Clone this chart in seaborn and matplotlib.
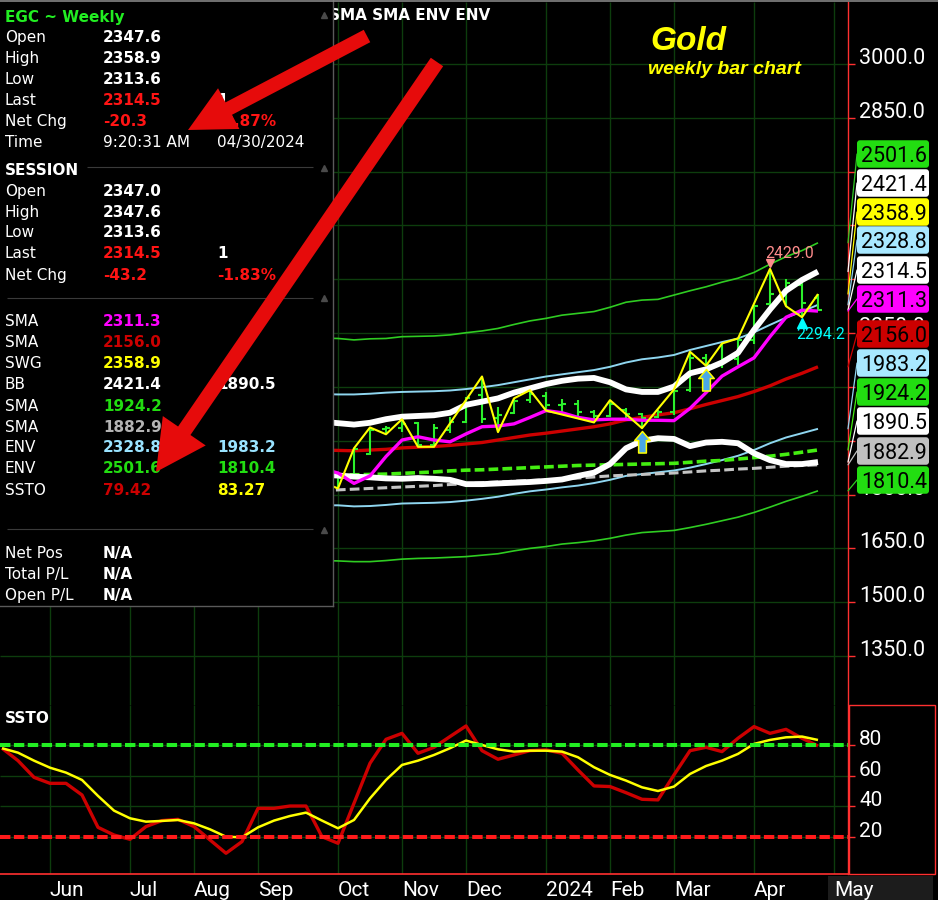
import matplotlib
matplotlib.use("Agg")
import numpy as np
import pandas as pd
import matplotlib.pyplot as plt
import matplotlib.transforms as mtransforms
from matplotlib.patches import FancyArrow, FancyBboxPatch, Rectangle, ConnectionPatch
from matplotlib.path import Path
from matplotlib.lines import Line2D
import seaborn as sns

# ================= DATA =================
ssto_idx = list(range(52))                     # weekly bars, 0 = late May 2023, 51 = week of 29 Apr 2024
month_pos = [3, 8, 12, 16, 21, 25, 29, 34, 38, 42, 47, 52]
month_labels = ["Jun", "Jul", "Aug", "Sep", "Oct", "Nov", "Dec", "2024", "Feb", "Mar", "Apr", "May"]
price_ticks = [1350, 1500, 1650, 1800, 1950, 2100, 2250, 2400, 2550, 2700, 2850, 3000]
ssto_ticks = [20, 40, 60, 80]

line_idx = list(range(20, 52))
env_up16 = [2236, 2235, 2231, 2234, 2235, 2240, 2241, 2242, 2245, 2251, 2256, 2263, 2274, 2284, 2291, 2300,
            2305, 2310, 2322, 2336, 2342, 2344, 2356, 2368, 2379, 2392, 2403, 2419, 2442, 2463, 2480, 2501.6]
env_up8 = [2080, 2079, 2079, 2081, 2084, 2086, 2087, 2088, 2090, 2094, 2099, 2105, 2113, 2121, 2129, 2135,
           2141, 2147, 2156, 2168, 2177, 2182, 2189, 2203, 2214, 2225, 2235, 2252, 2273, 2293, 2310, 2328.8]
sma_mid = [1924, 1923, 1922, 1924, 1926, 1930, 1932, 1934, 1937, 1941, 1945, 1952, 1959, 1966, 1971, 1977,
           1983, 1989, 1997, 2008, 2015, 2022, 2028, 2039, 2051, 2062, 2073, 2087, 2103, 2122, 2138, 2156.0]
env_dn8 = [1770, 1770, 1767, 1768, 1771, 1775, 1776, 1777, 1779, 1783, 1788, 1794, 1802, 1809, 1814, 1820,
           1825, 1832, 1841, 1852, 1857, 1862, 1867, 1875, 1885, 1896, 1908, 1924, 1943, 1959, 1971, 1983.2]
env_dn16 = [1616, 1615, 1613, 1613, 1616, 1620, 1622, 1623, 1625, 1627, 1631, 1635, 1643, 1650, 1655, 1662,
            1666, 1671, 1678, 1687, 1694, 1697, 1700, 1708, 1717, 1727, 1737, 1750, 1765, 1781, 1795, 1810.4]
sma_slow = [1853, 1854, 1855, 1856, 1857, 1859, 1861, 1863, 1866, 1868, 1869, 1871, 1873, 1875, 1877, 1879,
            1881, 1882, 1883, 1884, 1885, 1886, 1887, 1890, 1893, 1895, 1899, 1903, 1907, 1912, 1918, 1924.2]
sma_long = [1811, 1813, 1815, 1817, 1819, 1821, 1823, 1825, 1828, 1830, 1833, 1835, 1837, 1839, 1841, 1843,
            1846, 1849, 1852, 1854, 1856, 1858, 1860, 1863, 1866, 1868, 1871, 1873, 1876, 1879, 1881, 1882.9]
bb_up = [2003, 1999, 1995, 2000, 2010, 2017, 2019, 2021, 2028, 2050, 2059, 2068, 2084, 2096, 2108, 2117,
         2123, 2125, 2113, 2093, 2086, 2086, 2101, 2138, 2149, 2168, 2195, 2259, 2316, 2368, 2398, 2421.4]
bb_dn = [1855, 1853, 1850, 1848, 1845, 1844, 1846, 1844, 1841, 1829, 1829, 1831, 1833, 1835, 1838, 1842,
         1852, 1861, 1885, 1929, 1950, 1957, 1955, 1935, 1945, 1947, 1943, 1915, 1896, 1885, 1885, 1890.5]
sma_fast = [1872, 1860, 1831, 1852, 1906, 1952, 1961, 1952, 1947, 1969, 1989, 1991, 1997, 2015, 2034, 2028,
            2015, 2008, 2010, 2010, 2007, 2007, 2006, 2040, 2084, 2130, 2156, 2181, 2240, 2294, 2314, 2311.3]

ohlc_idx = list(range(21, 52))
bar_open = [1848, 1846, 1912, 1982, 1986, 2000, 1938, 1980, 2003, 2078, 2012, 2027, 2064, 2076, 2050, 2052,
            2030, 2020, 2036, 2024, 2015, 2030, 2090, 2180, 2160, 2178, 2232, 2330, 2362, 2385, 2347.6]
bar_high = [1850, 1929, 1987, 1990, 2010, 2003, 1997, 2015, 2073, 2129, 2045, 2068, 2091, 2087, 2065, 2063,
            2036, 2063, 2040, 2028, 2036, 2093, 2198, 2192, 2221, 2235, 2328, 2429.0, 2400, 2389, 2358.9]
bar_low = [1817, 1845, 1910, 1968, 1974, 1933, 1933, 1972, 2000, 2000, 1974, 2024, 2054, 2034, 2026, 2017,
           2001, 2017, 2010, 1985, 2012, 2022, 2087, 2157, 2152, 2162, 2220, 2324, 2325, 2294.2, 2313.6]
bar_close = [1845, 1926, 1980, 1985, 1996, 1937, 1985, 2002, 2068, 2010, 2022, 2060, 2080, 2050, 2052, 2030,
             2018, 2053, 2025, 2013, 2030, 2088, 2180, 2160, 2177, 2230, 2325, 2360, 2390, 2334.8, 2314.5]

swing_idx = [20, 21, 22, 23, 24, 25, 26, 27, 30, 31, 32, 33, 34, 37, 38, 40, 42, 43, 44, 45, 46, 48, 49, 50, 51]
swing_val = [1835, 1817, 1929, 1987, 1968, 2010, 1933, 1933, 2129, 1974, 2068, 2091, 2034, 2001, 2063, 1985,
             2093, 2198, 2159, 2221, 2235, 2429.0, 2325, 2294.2, 2358.9]
signal_idx = [40, 44]

ssto_k = [77.9, 69.8, 58.9, 55.0, 55.0, 47.4, 26.3, 21.3, 18.5, 26.8,
          30.7, 31.5, 26.8, 18.1, 9.4, 17.0, 38.7, 38.7, 40.2, 40.2,
          20.2, 15.9, 42.0, 68.1, 83.7, 87.6, 74.6, 78.5, 85.5, 92.4,
          76.3, 70.7, 73.5, 76.3, 76.8, 74.6, 63.7, 53.3, 52.9, 48.9,
          44.6, 44.2, 60.5, 76.3, 78.5, 75.7, 84.4, 92.0, 87.6, 90.2,
          84.4, 79.42]
ssto_d = [77.9, 75.0, 69.8, 65.2, 62.0, 57.2, 46.8, 37.2, 32.2, 30.0,
          30.5, 31.1, 28.9, 25.0, 20.2, 19.8, 26.3, 30.7, 33.7, 35.9,
          30.7, 25.7, 31.1, 45.2, 57.2, 67.0, 69.8, 73.5, 77.9, 82.9,
          80.0, 77.2, 75.7, 76.3, 76.3, 75.7, 72.0, 65.5, 60.5, 56.8,
          52.4, 50.0, 52.9, 61.1, 66.3, 69.8, 74.2, 80.7, 83.3, 85.0,
          85.5, 83.27]
ssto_upper = 80
ssto_lower = 20

# ================= STYLE =================
C_ENV16 = "#2fcc22"
C_ENV8 = "#8fd6f0"
C_MID = "#cc0000"
C_FAST = "#ff00ff"
C_SLOW = "#44ee11"
C_LONG = "#c4c4c4"
C_BB = "#ffffff"
C_SWG = "#ffff00"
C_BAR = "#2bf02b"
C_GRID = "#0d3d0d"
C_AXIS = "#ff3030"
AXFONT = ["Roboto", "DejaVu Sans"]

sns.set_theme(style="dark")
plt.rcParams.update({
    "font.family": ["DejaVu Sans"],
    "lines.scale_dashes": False,
    "axes.facecolor": "black",
    "figure.facecolor": "black",
    "savefig.facecolor": "black",
    "lines.solid_capstyle": "butt",
})

W, H = 938, 900
fig = plt.figure(figsize=(W / 100, H / 100), dpi=100)
px = mtransforms.Affine2D().scale(1.0 / W, -1.0 / H).translate(0, 1) + fig.transFigure

def fx(x):
    return x / W

def fy(y):
    return 1 - y / H

AX_R = 848
ax = fig.add_axes([0, fy(705), fx(AX_R), (705 - 2) / H])
ax2 = fig.add_axes([0, fy(874), fx(AX_R), (874 - 705) / H])

x0 = -0.125
x1 = (AX_R - 2) / 16.0
price_per_px = 1650.0 / 592.0
for a in (ax, ax2):
    a.set_facecolor("black")
    a.set_xlim(x0, x1)
    a.set_xticks(month_pos)
    a.grid(True, color=C_GRID, lw=1.0)
    a.set_axisbelow(True)
    for s in ("left", "top"):
        a.spines[s].set_visible(False)
    a.spines["right"].set_color(C_AXIS)
    a.spines["right"].set_linewidth(1.0)
    a.yaxis.tick_right()
ax.spines["bottom"].set_visible(False)
ax2.spines["bottom"].set_color(C_AXIS)
ax2.spines["bottom"].set_linewidth(1.2)

ax.set_ylim(3000 - (705 - 64) * price_per_px, 3000 + (64 - 2) * price_per_px)
ssto_per_px = 60.0 / 92.0
ax2.set_ylim(80 - (874 - 745) * ssto_per_px, 80 + (745 - 705) * ssto_per_px)

# ---------- price panel ----------
def line(y, x, color, lw, z, ls="-"):
    sns.lineplot(x=x, y=y, ax=ax, color=color, linewidth=lw, zorder=z, linestyle=ls, estimator=None)

line(env_up16, line_idx, C_ENV16, 1.2, 3)
line(env_dn16, line_idx, C_ENV16, 1.2, 3)
line(env_up8, line_idx, C_ENV8, 1.4, 3)
line(env_dn8, line_idx, C_ENV8, 1.4, 3)
line(sma_long, line_idx, C_LONG, 2.2, 3.2, ls=(0, (7, 3)))
line(sma_slow, line_idx, C_SLOW, 2.6, 3.3, ls=(0, (7, 3)))
line(sma_mid, line_idx, C_MID, 2.4, 3.5)

# OHLC bars
ax.vlines(ohlc_idx, bar_low, bar_high, color=C_BAR, lw=1.5, zorder=4)
ax.hlines(bar_open, np.array(ohlc_idx) - 0.25, ohlc_idx, color=C_BAR, lw=1.5, zorder=4)
ax.hlines(bar_close, ohlc_idx, np.array(ohlc_idx) + 0.25, color=C_BAR, lw=1.5, zorder=4)

line(bb_up, line_idx, C_BB, 4.2, 4.5)
line(bb_dn, line_idx, C_BB, 4.2, 4.5)
line(sma_fast, line_idx, C_FAST, 2.4, 5)
line(swing_val, swing_idx, C_SWG, 1.5, 6)

# signal arrows below lows
arrow_path = Path([(0, 0), (0.36, -0.42), (0.18, -0.42), (0.18, -1), (-0.18, -1), (-0.18, -0.42),
                   (-0.36, -0.42), (0, 0)],
                  [Path.MOVETO] + [Path.LINETO] * 6 + [Path.CLOSEPOLY])
sig_low = [bar_low[ohlc_idx.index(i)] for i in signal_idx]
ax.plot(signal_idx, sig_low, linestyle="none", marker=arrow_path, ms=31, mfc="#4aa8e8", mec="#ffff00",
        mew=1.1, zorder=7, transform=mtransforms.offset_copy(ax.transData, fig=fig, x=0, y=-3, units="dots"))

# high / low annotations
k = int(np.argmax(bar_high))
j = k + int(np.argmin(bar_low[k:]))
hx, hv = ohlc_idx[k], bar_high[k]
lx, lv = ohlc_idx[j], bar_low[j]
ax.plot([hx], [hv], linestyle="none", marker="v", ms=6, color="#ff8c8c", zorder=7,
        transform=mtransforms.offset_copy(ax.transData, fig=fig, x=0, y=6, units="dots"))
ax.annotate(f"{hv:.1f}", xy=(hx, hv), xytext=(-5, 11), textcoords="offset pixels", color="#ff8c8c",
            fontsize=11.3, family=AXFONT, va="baseline", ha="left", zorder=7)
ax.plot([lx], [lv], linestyle="none", marker="^", ms=7, color="#00ffff", zorder=7,
        transform=mtransforms.offset_copy(ax.transData, fig=fig, x=0, y=-6, units="dots"))
ax.annotate(f"{lv:.1f}", xy=(lx, lv), xytext=(-6, -22), textcoords="offset pixels", color="#00ffff",
            fontsize=11.3, family=AXFONT, va="baseline", ha="left", zorder=7)

# ---------- right-hand value boxes (layout) ----------
boxes = [
    (env_up16[-1], "#22dd11", C_ENV16),
    (bb_up[-1], "#ffffff", C_BB),
    (swing_val[-1], "#ffff00", C_SWG),
    (env_up8[-1], "#a8e8ff", C_ENV8),
    (bar_close[-1], "#ffffff", "#ffffff"),
    (sma_fast[-1], "#ff00ff", C_FAST),
    (sma_mid[-1], "#cc0000", C_MID),
    (env_dn8[-1], "#a8e8ff", C_ENV8),
    (sma_slow[-1], "#22dd11", C_SLOW),
    (bb_dn[-1], "#ffffff", C_BB),
    (sma_long[-1], "#c0c0c0", C_LONG),
    (env_dn16[-1], "#22dd11", C_ENV16),
]
boxes.sort(key=lambda b: -b[0])
slot_px = [154, 183, 212, 240, 270, 299, 334, 363, 392, 421, 451, 480]
BOX_H = 27.5

# merged vertical spans covered by the boxes
spans = []
for sy in slot_px:
    a0, a1 = sy - BOX_H / 2, sy + BOX_H / 2
    if spans and a0 - spans[-1][1] <= 3.0:
        spans[-1][1] = a1
    else:
        spans.append([a0, a1])

# price axis ticks (labels fully hidden behind value boxes are left blank)
ax.set_yticks(price_ticks)
fig.canvas.draw()
tick_text = []
for v in price_ticks:
    ypx = H - ax.transData.transform((0, v))[1]
    top, bot = ypx - 16, ypx + 1
    hidden = any(s0 <= top and bot <= s1 for s0, s1 in spans)
    tick_text.append("" if hidden else f"{v:.1f}")
ax.set_yticklabels(tick_text)
ax.tick_params(axis="y", which="major", direction="out", length=5, width=1, color=C_AXIS,
               labelcolor="white", labelsize=15.5, pad=3, right=True, left=False)
ax.tick_params(axis="x", length=0, labelbottom=False)
for t in ax.get_yticklabels():
    t.set_verticalalignment("baseline")
    t.set_family(AXFONT)

for (val, bg, lc), sy in zip(boxes, slot_px):
    fig.add_artist(ConnectionPatch(xyA=(1.0, val), coordsA=ax.get_yaxis_transform(), xyB=(857, sy),
                                   coordsB=px, color=lc, lw=0.9, zorder=2))
    fig.add_artist(FancyBboxPatch((857, sy - BOX_H / 2), 72, BOX_H, boxstyle="round,pad=0,rounding_size=3",
                                  transform=px, fc=bg, ec="none", zorder=2.5))
    fig.text(861, sy + 7.8, f"{val:.1f}", transform=px, color="black", fontsize=15.5, family=AXFONT,
             va="baseline", ha="left", zorder=2.6)

# ---------- SSTO panel ----------
sns.lineplot(x=ssto_idx, y=ssto_k, ax=ax2, color="#cc0000", linewidth=2.4, zorder=3, estimator=None)
sns.lineplot(x=ssto_idx, y=ssto_d, ax=ax2, color="#ffff00", linewidth=1.8, zorder=3.5, estimator=None)
ax2.axhline(ssto_upper, color="#22ee22", lw=2.9, ls=(0, (7.5, 2.5)), zorder=4)
ax2.axhline(ssto_lower, color="#ff1a1a", lw=2.9, ls=(0, (7.5, 2.5)), zorder=4)
ax2.set_yticks(ssto_ticks)
ax2.set_yticklabels([str(v) for v in ssto_ticks])
ax2.tick_params(axis="y", direction="out", length=5, width=1, color=C_AXIS, labelcolor="white",
                labelsize=15, pad=3, right=True, left=False)
for t in ax2.get_yticklabels():
    t.set_verticalalignment("baseline")
    t.set_family(AXFONT)
ax2.set_xticks(month_pos)
ax2.set_xticklabels(month_labels)
ax2.tick_params(axis="x", direction="out", length=4.3, width=1, color=C_AXIS, labelcolor="white",
                labelsize=15, pad=11.5)
for t in ax2.get_xticklabels():
    t.set_horizontalalignment("left")
    t.set_verticalalignment("baseline")
    t.set_family(AXFONT)
for a in (ax, ax2):
    a.set_xlabel("")
    a.set_ylabel("")
fig.text(5, 723, "SSTO", transform=px, color="white", fontsize=11, fontweight="bold", va="baseline", zorder=3)

# right region frame of the oscillator and the grey "May" cell
fig.add_artist(Rectangle((849, 705), 86, 169, transform=px, fill=False, ec=C_AXIS, lw=1.0, zorder=3))
fig.add_artist(Rectangle((828, 876), 105, 24, transform=px, fc="#1c1c1c", ec="none", zorder=-1))

# ---------- chart titles ----------
fig.text(329, 20.5, "SMA SMA ENV ENV", transform=px, color="white", fontsize=11, fontweight="bold",
         va="baseline", zorder=4)
fig.text(650, 50, "Gold", transform=px, color="#ffff00", fontsize=24, fontweight="bold",
         fontstyle="italic", family=["Liberation Sans", "DejaVu Sans"], va="baseline", zorder=4)
fig.text(648, 74, "weekly bar chart", transform=px, color="#ffff00", fontsize=14, fontweight="bold",
         fontstyle="italic", family=["Liberation Sans", "DejaVu Sans"], va="baseline", zorder=4)
fig.add_artist(Line2D([0, W], [0.8, 0.8], transform=px, color="#858585", lw=1.2, zorder=9))

# ---------- quote / indicator panel ----------
pan = fig.add_axes([0, fy(606), fx(333), 606 / H], zorder=5)
pan.set_facecolor("black")
pan.set_xticks([])
pan.set_yticks([])
for s in ("left", "top"):
    pan.spines[s].set_visible(False)
for s in ("right", "bottom"):
    pan.spines[s].set_color("#5a5a5a")
    pan.spines[s].set_linewidth(1.0)

WHITE, RED = "#ffffff", "#ff1414"
panel_rows = [
    # (baseline y, label, value, value colour, value bold, third, third colour, third bold)
    (42.4, "Open", "2347.6", WHITE, True, None, None, True),
    (63.4, "High", "2358.9", WHITE, True, None, None, True),
    (84.4, "Low", "2313.6", WHITE, True, None, None, True),
    (105.4, "Last", f"{bar_close[-1]:.1f}", RED, True, "1", WHITE, True),
    (126.4, "Net Chg", "-20.3", RED, True, "-0.87%", RED, True),
    (147.4, "Time", "9:20:31 AM", WHITE, False, "04/30/2024", WHITE, False),
    (195.7, "Open", "2347.0", WHITE, True, None, None, True),
    (216.7, "High", "2347.6", WHITE, True, None, None, True),
    (237.4, "Low", "2313.6", WHITE, True, None, None, True),
    (258.4, "Last", f"{bar_close[-1]:.1f}", RED, True, "1", WHITE, True),
    (279.7, "Net Chg", "-43.2", RED, True, "-1.83%", RED, True),
    (326.4, "SMA", f"{sma_fast[-1]:.1f}", "#ff00ff", True, None, None, True),
    (347.4, "SMA", f"{sma_mid[-1]:.1f}", "#cc0000", True, None, None, True),
    (367.7, "SWG", f"{swing_val[-1]:.1f}", "#ffff00", True, None, None, True),
    (388.7, "BB", f"{bb_up[-1]:.1f}", WHITE, True, f"{bb_dn[-1]:.1f}", WHITE, True),
    (410.7, "SMA", f"{sma_slow[-1]:.1f}", "#22dd11", True, None, None, True),
    (431.7, "SMA", f"{sma_long[-1]:.1f}", "#b4b4b4", True, None, None, True),
    (452.4, "ENV", f"{env_up8[-1]:.1f}", "#99e3ff", True, f"{env_dn8[-1]:.1f}", "#99e3ff", True),
    (473.4, "ENV", f"{env_up16[-1]:.1f}", "#22dd11", True, f"{env_dn16[-1]:.1f}", "#22dd11", True),
    (494.7, "SSTO", f"{ssto_k[-1]:.2f}", "#cc0000", True, f"{ssto_d[-1]:.2f}", "#ffff00", True),
    (557.7, "Net Pos", "N/A", WHITE, True, None, None, True),
    (578.7, "Total P/L", "N/A", WHITE, True, None, None, True),
    (599.7, "Open P/L", "N/A", WHITE, True, None, None, True),
]
for yb, lab, val, vc, vb, th, tc, tb in panel_rows:
    fig.text(5, yb, lab, transform=px, color=WHITE, fontsize=11, va="baseline", zorder=6)
    fig.text(103, yb, val, transform=px, color=vc, fontsize=11, fontweight="bold" if vb else "normal",
             va="baseline", zorder=6)
    if th:
        fig.text(217, yb, th, transform=px, color=tc, fontsize=11, fontweight="bold" if tb else "normal",
                 va="baseline", zorder=6)
fig.text(5, 21.7, "EGC ~ Weekly", transform=px, color="#22ee22", fontsize=11, fontweight="bold",
         va="baseline", zorder=6)
fig.text(5, 174.7, "SESSION", transform=px, color=WHITE, fontsize=11, fontweight="bold",
         va="baseline", zorder=6)
for xa, xb, yy in [(87, 313, 167), (7, 313, 298), (7, 313, 529)]:
    fig.add_artist(Line2D([xa, xb], [yy, yy], transform=px, color="#3a3a3a", lw=0.8, zorder=6))
for yy in (15, 168, 298, 530):
    fig.add_artist(Line2D([324], [yy], transform=px, marker="^", ms=5, color="#4a4a4a",
                          linestyle="none", zorder=6))

# ---------- hand-drawn red arrows ----------
fig.add_artist(FancyArrow(367, 36, 188 - 367, 130 - 36, width=14, head_width=46, head_length=46,
                          length_includes_head=True, transform=px, color="#e60b0b", ec="none", zorder=8))
fig.add_artist(FancyArrow(437, 62, 156 - 437, 472 - 62, width=15, head_width=52, head_length=50,
                          length_includes_head=True, transform=px, color="#e60b0b", ec="none", zorder=8))

fig.savefig("out.png", dpi=100, facecolor="black")
